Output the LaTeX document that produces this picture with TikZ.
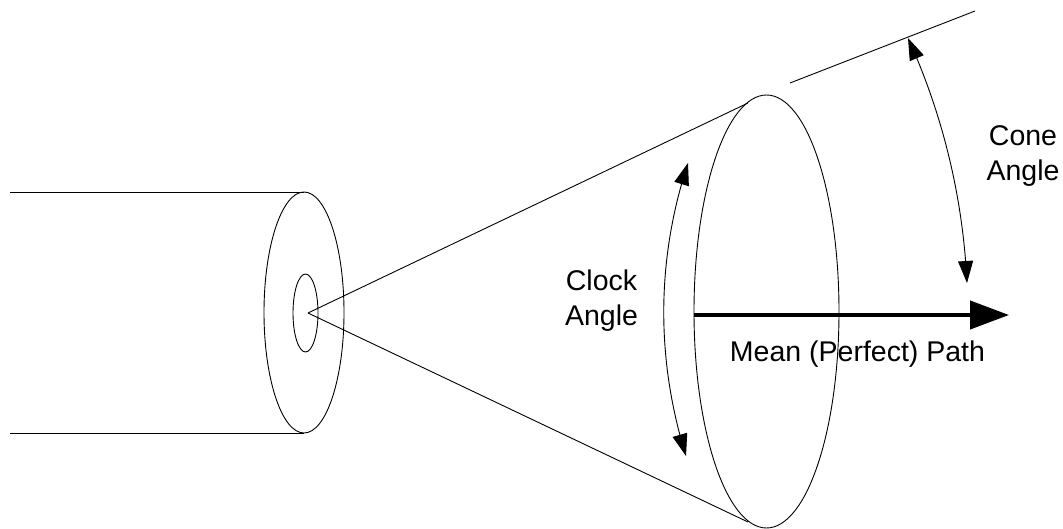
\documentclass[tikz,border=0pt]{standalone}
\usepackage{fontspec}
\setmainfont{Liberation Sans}
\usetikzlibrary{shapes.geometric,arrows.meta,bending}
\tikzset{
  outline/.style={line width=0.9pt,draw=black},
  disc/.style={ellipse,outline,inner sep=0pt,outer sep=0pt},
  thinline/.style={outline},
  angletip/.style={outline,{Triangle[length=22pt,width=15pt,flex]}-{Triangle[length=22pt,width=15pt,flex]}},
  mainarrow/.style={line width=4.2pt,-{Triangle[length=39pt,width=28pt]}},
  lbl/.style={font=\fontsize{28.5}{35}\selectfont,align=center,inner sep=0pt}
}
\begin{document}
\begin{tikzpicture}[x=1pt,y=-1pt]
\useasboundingbox (0,0) rectangle (1063,529);
\node[disc,minimum width=80pt,minimum height=241pt] (outer) at (304,312.5) {};
\node[disc,minimum width=25pt,minimum height=78pt] (inner) at (305.5,313) {};
\node[disc,minimum width=145pt,minimum height=433pt] (big) at (766.5,311.5) {};
\coordinate (cylT) at (10,192);
\coordinate (cylB) at (10,433);
\coordinate (apex) at (308,313);
\coordinate (coneT) at (748,103);
\coordinate (coneB) at (748,522);
\coordinate (extA) at (790,83);
\coordinate (extB) at (975,11);
\coordinate (ca1) at (908,38);
\coordinate (ca2) at (967,283);
\coordinate (cl1) at (688,163);
\coordinate (cl2) at (686,456);
\coordinate (mA) at (694,315);
\coordinate (mB) at (1009,315);
\draw[thinline] (cylT) -- (outer.north);
\draw[thinline] (cylB) -- (outer.south);
\draw[thinline] (apex) -- (coneT);
\draw[thinline] (apex) -- (coneB);
\draw[thinline] (extA) -- (extB);
\draw[angletip] (ca1) .. controls (943,115) and (963,198) .. (ca2);
\draw[angletip] (cl1) .. controls (656,260) and (656,360) .. (cl2);
\draw[mainarrow] (mA) -- (mB);
\node[lbl] (cone) at (1023,156.5) {Cone\\Angle};
\node[lbl] (clock) at (601.5,301) {Clock\\Angle};
\node[lbl,anchor=base] (mean) at (857.5,361) {Mean (Perfect) Path};
\end{tikzpicture}
\end{document}
